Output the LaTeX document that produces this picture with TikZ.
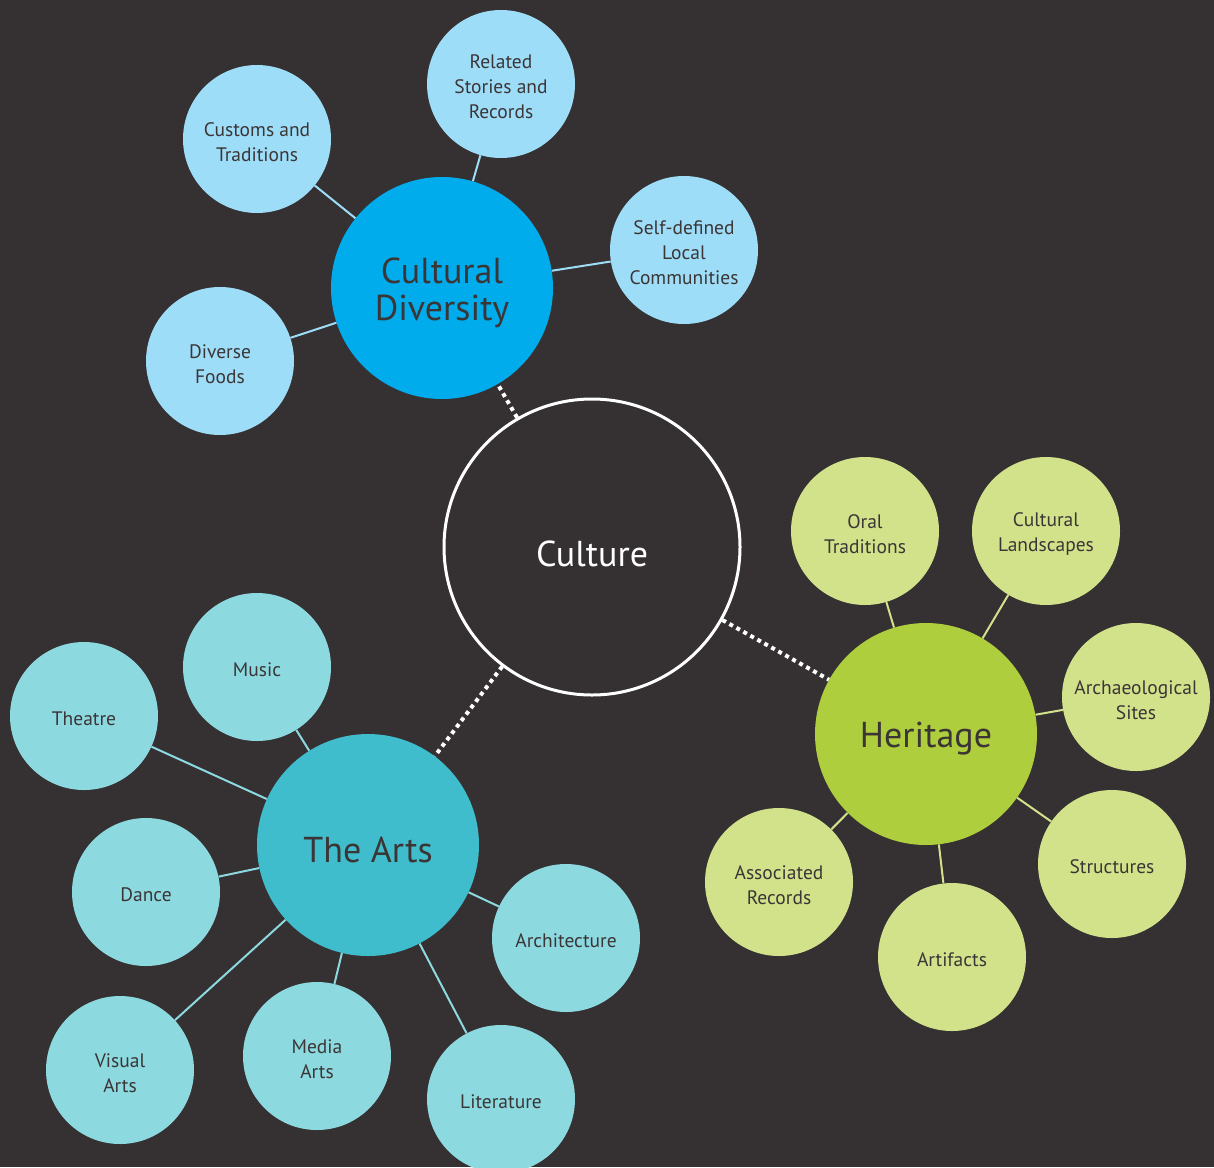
\documentclass[tikz,border=0pt]{standalone}
\usepackage{fontspec}
\setmainfont{PT Sans}
\begin{document}
\begin{tikzpicture}[x=1pt,y=-1pt,
  circ/.style={circle,inner sep=0pt},
  st/.style={align=center,text=txt,font=\fontsize{19.5}{25}\selectfont,inner sep=0pt,yshift=-3pt},
  bt/.style={align=center,text=txt,font=\fontsize{36}{37}\selectfont,inner sep=0pt,yshift=-5pt},
  small/.style={circ,minimum size=148pt,label={[st]center:#1}},
  big/.style={circ,minimum size=222pt,label={[bt]center:#1}},
  bl/.style={small=#1,fill=lblue}, gr/.style={small=#1,fill=lgreen}, tl/.style={small=#1,fill=lteal},
  link/.style={line width=2pt},
  dots/.style={draw=white,line width=4pt,dash pattern=on 4pt off 4pt}
]
\definecolor{bgcol}{HTML}{353132}
\definecolor{txt}{HTML}{3B3536}
\definecolor{dblue}{HTML}{00ACEC}
\definecolor{lblue}{HTML}{9EDDF8}
\definecolor{dgreen}{HTML}{AFCE3E}
\definecolor{lgreen}{HTML}{D2E28A}
\definecolor{dteal}{HTML}{40BDCC}
\definecolor{lteal}{HTML}{8DD9E0}
\fill[bgcol] (0,0) rectangle (1214,1167);
\useasboundingbox (0,0) rectangle (1214,1167);

% centre
\node[circ,draw=white,line width=3pt,fill=bgcol,minimum size=296pt,
  label={[bt,text=white,yshift=-2pt]center:Culture}] (cul) at (592,547) {};

% main nodes
\node[big={Cultural\\Diversity},fill=dblue] (cd) at (442,288) {};
\node[big={Heritage},fill=dgreen] (her) at (926,734) {};
\node[big={The Arts},fill=dteal] (arts) at (368,845) {};

% cultural diversity
\node[bl={Customs and\\Traditions}] (cust) at (257,139) {};
\node[bl={Related\\Stories and\\Records}] (rel) at (501,84) {};
\node[bl={Self-defined\\Local\\Communities}] (self) at (684,250) {};
\node[bl={Diverse\\Foods}] (food) at (220,361) {};

% heritage
\node[gr={Oral\\Traditions}] (oral) at (865,531) {};
\node[gr={Cultural\\Landscapes}] (land) at (1046,531) {};
\node[gr={Archaeological\\Sites}] (arch) at (1136,697) {};
\node[gr={Structures}] (struc) at (1112,864) {};
\node[gr={Artifacts}] (artif) at (952,957) {};
\node[gr={Associated\\Records}] (assoc) at (779,882) {};

% arts
\node[tl={Music}] (music) at (257,667) {};
\node[tl={Theatre}] (theat) at (84,716) {};
\node[tl={Dance}] (dance) at (146,892) {};
\node[tl={Visual\\Arts}] (vis) at (120,1070) {};
\node[tl={Media\\Arts}] (media) at (317,1056) {};
\node[tl={Literature}] (lit) at (501,1099) {};
\node[tl={Architecture}] (archi) at (566,938) {};

% dotted links
\draw[dots] (cul) -- (cd);
\draw[dots] (cul) -- (her);
\draw[dots] (cul) -- (arts);

% links
\foreach \n in {cust,rel,self,food} \draw[link,lblue] (cd) -- (\n);
\foreach \n in {oral,land,arch,struc,artif,assoc} \draw[link,lgreen] (her) -- (\n);
\foreach \n in {music,theat,dance,vis,media,lit,archi} \draw[link,lteal] (arts) -- (\n);
\end{tikzpicture}
\end{document}
